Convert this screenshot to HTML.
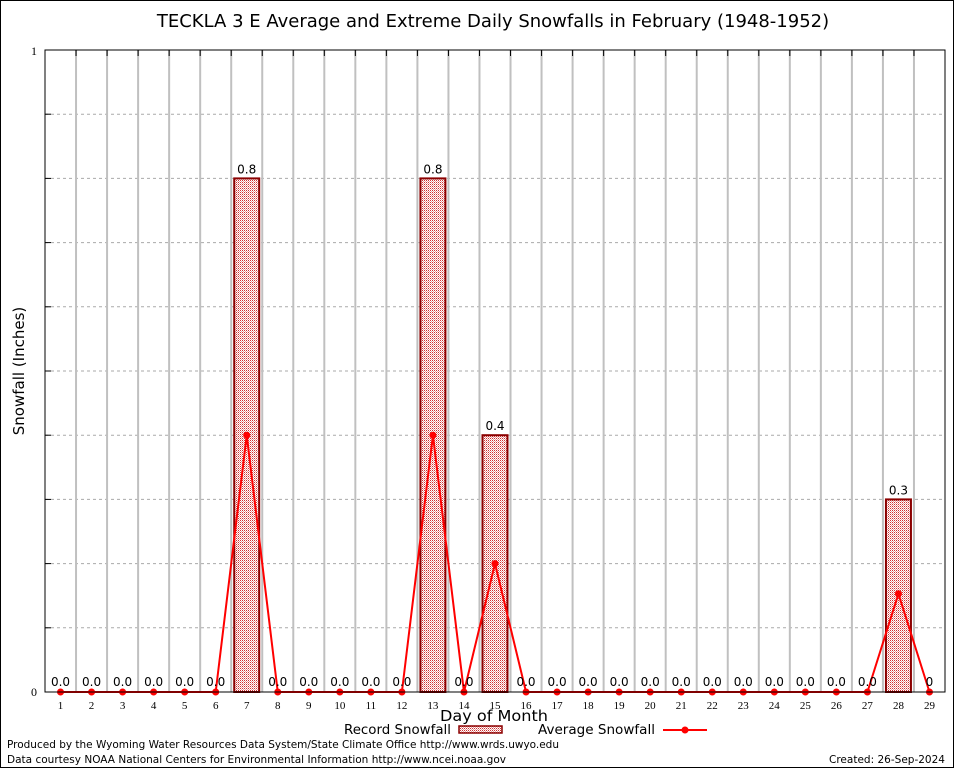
<!DOCTYPE html>
<html><head><meta charset="utf-8"><style>
body{margin:0;background:#fff}
svg{display:block}
text{font-family:"DejaVu Sans","Liberation Sans",sans-serif}
</style></head><body>
<svg id="s" width="954" height="768" xmlns="http://www.w3.org/2000/svg">
<defs>
<pattern id="p" width="2" height="2" patternUnits="userSpaceOnUse">
<rect width="2" height="2" fill="#fff"/>
<rect width="1" height="1" fill="#d03030"/>
<rect x="1" y="1" width="1" height="1" fill="#e8a0a0"/>
</pattern>
</defs>
<rect x="0.5" y="0.5" width="953" height="767" fill="#fff" stroke="#000"/>
<g id="g"></g>
</svg>
<script>
var g=document.getElementById('g'),h='';
var L=45,R=945,T=50,B=692,W=(R-L)/29;
function X(d){return L+W*(d-0.5)}
function Y(v){return B-v*(B-T)}
for(var k=1;k<=9;k++){var y=Y(k/10);h+='<line x1="'+L+'" x2="'+R+'" y1="'+y+'" y2="'+y+'" stroke="#aaa" stroke-dasharray="3,3"/>';h+='<line x1="'+L+'" x2="'+(L+6)+'" y1="'+y+'" y2="'+y+'" stroke="#000"/>';}
for(var k=1;k<29;k++){var x=L+W*k;h+='<line x1="'+x+'" x2="'+x+'" y1="'+T+'" y2="'+B+'" stroke="#c0c0c0" stroke-width="2"/><line x1="'+x+'" x2="'+x+'" y1="'+T+'" y2="'+(T+6)+'" stroke="#000"/>';}
var rec={7:0.8,13:0.8,15:0.4,28:0.3};
for(var d in rec){var x=X(+d)-12.5,y=Y(rec[d]);h+='<rect x="'+x+'" y="'+y+'" width="25" height="'+(B-y)+'" fill="url(#p)" stroke="#8b0000" stroke-width="2"/>';h+='<text x="'+X(+d)+'" y="'+(y-5)+'" font-size="12" text-anchor="middle">'+rec[d].toFixed(1)+'</text>';}
var avg=[];for(var d=1;d<=29;d++)avg.push(0);avg[6]=0.4;avg[12]=0.4;avg[14]=0.2;avg[27]=0.153;
var pts=avg.map(function(v,i){return X(i+1)+','+Y(v)}).join(' ');
h+='<polyline points="'+pts+'" fill="none" stroke="#ff0000" stroke-width="2"/>';
for(var d=1;d<=29;d++){h+='<circle cx="'+X(d)+'" cy="'+Y(avg[d-1])+'" r="3.5" fill="#ff0000"/>';
if(!rec[d])h+='<text x="'+X(d)+'" y="'+(B-6)+'" font-size="12" text-anchor="middle">'+(d==29?'0':'0.0')+'</text>';
h+='<text x="'+X(d)+'" y="'+(B+17)+'" font-size="11" text-anchor="middle" style="font-family:\'Liberation Serif\',serif">'+d+'</text>';}
h+='<rect x="'+L+'" y="'+T+'" width="'+(R-L)+'" height="'+(B-T)+'" fill="none" stroke="#000"/>';
h+='<text x="37" y="55" font-size="12" text-anchor="end" style="font-family:\'Liberation Serif\',serif">1</text>';
h+='<text x="37" y="696" font-size="12" text-anchor="end" style="font-family:\'Liberation Serif\',serif">0</text>';
h+='<text x="493" y="27" font-size="18" text-anchor="middle">TECKLA 3 E Average and Extreme Daily Snowfalls in February (1948-1952)</text>';
h+='<text transform="translate(24,371) rotate(-90)" font-size="15" text-anchor="middle">Snowfall (Inches)</text>';
h+='<text x="440" y="721" font-size="15" textLength="108" lengthAdjust="spacingAndGlyphs">Day of Month</text>';
h+='<text x="344" y="734" font-size="13" textLength="107" lengthAdjust="spacingAndGlyphs">Record Snowfall</text>';
h+='<rect x="459" y="726" width="43" height="7" fill="url(#p)" stroke="#8b0000" stroke-width="1.5"/>';
h+='<text x="538" y="734" font-size="13" textLength="117" lengthAdjust="spacingAndGlyphs">Average Snowfall</text>';
h+='<line x1="663" x2="707" y1="730" y2="730" stroke="#f00" stroke-width="2"/><circle cx="685" cy="730" r="3.5" fill="#f00"/>';
h+='<text x="7" y="748" font-size="11" textLength="552" lengthAdjust="spacingAndGlyphs">Produced by the Wyoming Water Resources Data System/State Climate Office http://www.wrds.uwyo.edu</text>';
h+='<text x="7" y="763" font-size="11" textLength="499" lengthAdjust="spacingAndGlyphs">Data courtesy NOAA National Centers for Environmental Information http://www.ncei.noaa.gov</text>';
h+='<text x="829" y="763" font-size="11" textLength="116" lengthAdjust="spacingAndGlyphs">Created:  26-Sep-2024</text>';
g.innerHTML=h;
</script>
</body></html>
